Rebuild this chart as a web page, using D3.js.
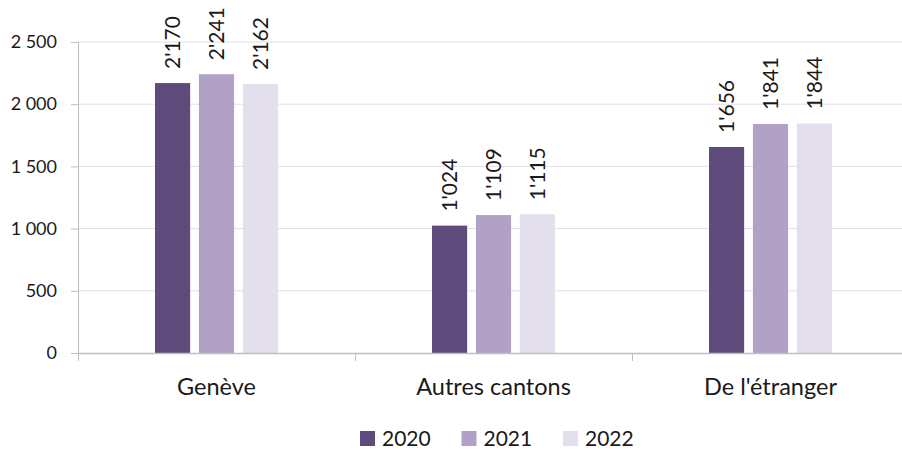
<!DOCTYPE html>
<html><head><meta charset="utf-8">
<script src="https://cdn.jsdelivr.net/npm/d3@7"></script>
<style>body{margin:0;background:#fff;} svg{display:block;font-family:Lato,"Open Sans",sans-serif;}</style>
</head><body>
<svg id="c" width="902" height="450"></svg>
<script>
const categories = ["Genève", "Autres cantons", "De l'étranger"];
const years = ["2020", "2021", "2022"];
const values2020 = [2170, 1024, 1656];
const values2021 = [2241, 1109, 1841];
const values2022 = [2162, 1115, 1844];
const yTicks = [0, 500, 1000, 1500, 2000, 2500];
const colors = ["#5f4b7b", "#b2a1c7", "#e3dfec"];

const series = [values2020, values2021, values2022];
const data = [];
categories.forEach((c, i) => series.forEach((s, j) => data.push({cat: c, year: years[j], value: s[i]})));

const svg = d3.select("#c");
const x0 = d3.scaleBand().domain(categories).range([78, 909]).paddingInner(0).paddingOuter(0);
const x1 = d3.scaleBand().domain(years).range([0, 123]).paddingInner(0.2).paddingOuter(0);
const groupOffset = (x0.bandwidth() - 123) / 2;
const y = d3.scaleLinear().domain([0, 2500]).range([353, 42]);
const color = d3.scaleOrdinal().domain(years).range(colors);
const ink = "#1a1a1a";

// gridlines
svg.append("g").selectAll("line").data(yTicks.filter(d => d > 0)).join("line")
  .attr("x1", 78).attr("x2", 909).attr("y1", d => y(d)).attr("y2", d => y(d))
  .attr("stroke", "#e2deea").attr("stroke-width", 1);

// bars
svg.append("g").selectAll("rect").data(data).join("rect")
  .attr("x", d => x0(d.cat) + groupOffset + x1(d.year))
  .attr("width", x1.bandwidth())
  .attr("y", d => y(d.value))
  .attr("height", d => y(0) - y(d.value))
  .attr("fill", d => color(d.year));

// value labels
const fmt = v => d3.format(",")(v).replace(/,/g, "'");
svg.append("g").selectAll("text").data(data).join("text")
  .attr("transform", d => `translate(${x0(d.cat) + groupOffset + x1(d.year) + x1.bandwidth() / 2},${y(d.value) - 14}) rotate(-90)`)
  .attr("dy", "0.36em")
  .attr("font-size", 21).attr("fill", ink)
  .text(d => fmt(d.value));

// y axis
const yAxis = d3.axisLeft(y).tickValues(yTicks).tickSize(7).tickPadding(14)
  .tickFormat(d => d3.format(",")(d).replace(/,/g, " "));
const gy = svg.append("g").attr("transform", "translate(78,0)").call(yAxis);
gy.select(".domain").attr("stroke", "#bfbfbf").attr("d", "M0.5,41.5V361");
gy.selectAll(".tick line").attr("stroke", "#bfbfbf");
gy.selectAll(".tick text").attr("font-size", 18).attr("fill", ink).attr("font-family", "Lato, sans-serif");

// x axis
const xAxis = d3.axisBottom(x0).tickSize(0).tickPadding(25);
const gx = svg.append("g").attr("transform", "translate(0,353)").call(xAxis);
gx.select(".domain").attr("stroke", "#bfbfbf").attr("stroke-width", 1.5).attr("d", "M78,0.5H909");
gx.selectAll(".tick text").attr("font-size", 23.5).attr("fill", ink).attr("font-family", "Lato, sans-serif");
svg.append("g").selectAll("line").data(categories.slice(1)).join("line")
  .attr("x1", d => x0(d) + 0.5).attr("x2", d => x0(d) + 0.5).attr("y1", 353).attr("y2", 361)
  .attr("stroke", "#bfbfbf");

// legend
const leg = svg.append("g").selectAll("g").data(years).join("g")
  .attr("transform", (d, i) => `translate(${360 + i * 101.5},431)`);
leg.append("rect").attr("width", 15).attr("height", 15).attr("fill", d => color(d));
leg.append("text").attr("x", 22).attr("y", 15).attr("font-size", 21).attr("fill", ink).text(d => d);
</script>
</body></html>
